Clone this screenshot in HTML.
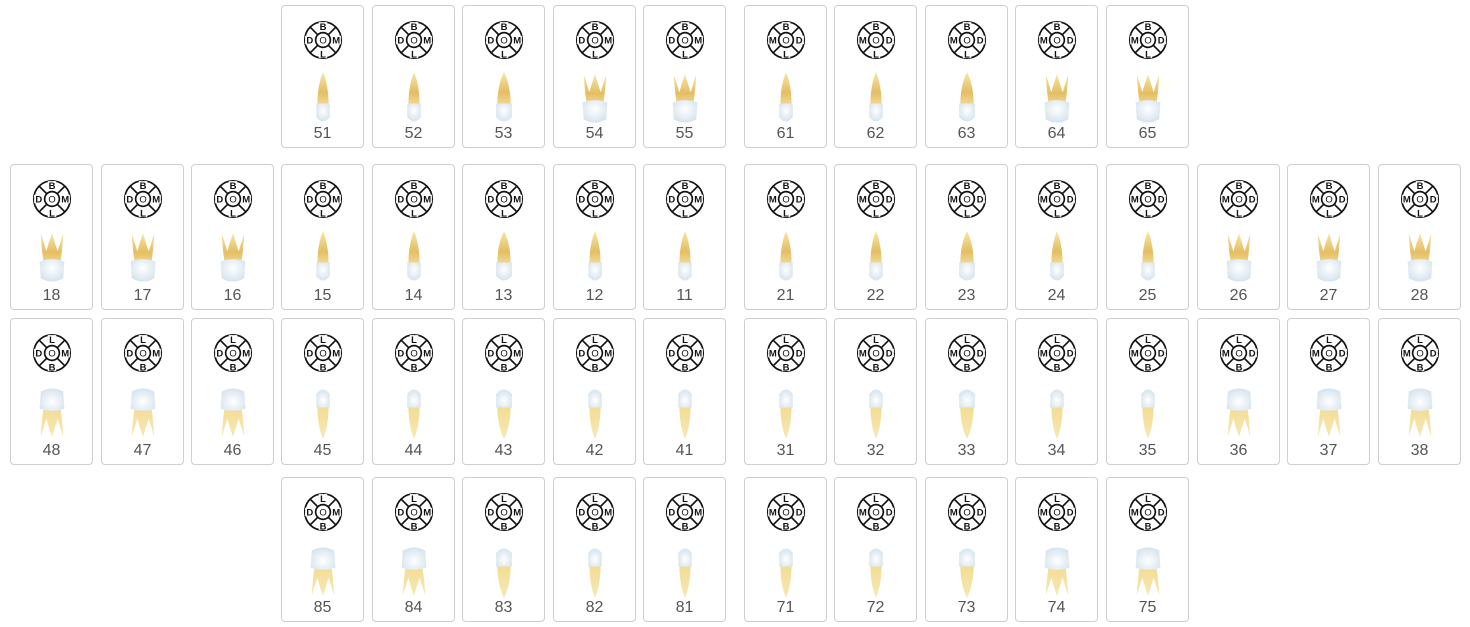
<!DOCTYPE html>
<html><head><meta charset="utf-8">
<style>
body{margin:0;background:#fff;width:1470px;height:627px;position:relative;overflow:hidden;font-family:"Liberation Sans",sans-serif}
.card{position:absolute;width:83px;border:1px solid #cfcfcf;border-radius:4px;background:#fff;box-sizing:border-box}
.card svg.ic{position:absolute;left:21px;top:14px}
.card svg.th{position:absolute;left:24px}
.lbl{position:absolute;left:0;right:0;text-align:center;font-size:16px;color:#555}
</style></head><body>
<svg width="0" height="0" style="position:absolute">
<defs>
<linearGradient id="rootU" x1="0" y1="0" x2="0" y2="1"><stop offset="0" stop-color="#f7e7a8"/><stop offset="0.6" stop-color="#e4bd63"/><stop offset="1" stop-color="#f3dc98"/></linearGradient>
<linearGradient id="rootL" x1="0" y1="1" x2="0" y2="0"><stop offset="0" stop-color="#f2dc92"/><stop offset="1" stop-color="#f7e8b4"/></linearGradient>
<radialGradient id="crown" cx="0.5" cy="0.4" r="0.7"><stop offset="0" stop-color="#ffffff"/><stop offset="1" stop-color="#cfdfeb"/></radialGradient>
</defs></svg>
<script>
const rowLabels=[
 ["51","52","53","54","55","61","62","63","64","65"],
 ["18","17","16","15","14","13","12","11","21","22","23","24","25","26","27","28"],
 ["48","47","46","45","44","43","42","41","31","32","33","34","35","36","37","38"],
 ["85","84","83","82","81","71","72","73","74","75"]
];
const rowTop=[5,164,318,477];
const rowH=[143,146,147,145];
const colX=[10,101,191,281,372,462,553,643,744,834,925,1015,1106,1197,1287,1378];
function icon(top,left,right,bottom){
 return `<svg class="ic" width="40" height="40" viewBox="0 0 38 38">
 <circle cx="19" cy="19" r="17.3" fill="#fff" stroke="#111" stroke-width="1.6"/>
 <line x1="6.6" y1="6.6" x2="31.4" y2="31.4" stroke="#111" stroke-width="1.6"/>
 <line x1="31.4" y1="6.6" x2="6.6" y2="31.4" stroke="#111" stroke-width="1.6"/>
 <circle cx="19" cy="19" r="7" fill="#fff" stroke="#111" stroke-width="1.6"/>
 <rect x="15" y="2" width="8" height="8" fill="#fff"/><rect x="15" y="28" width="8" height="8" fill="#fff"/>
 <rect x="2" y="15" width="8" height="8" fill="#fff"/><rect x="28" y="15" width="8" height="8" fill="#fff"/>
 <g font-family="Liberation Sans,sans-serif" font-weight="bold" font-size="9" text-anchor="middle" fill="#111">
 <text x="19" y="9.5">${top}</text><text x="19" y="35.5">${bottom}</text>
 <text x="6.5" y="22.2">${left}</text><text x="31.5" y="22.2">${right}</text>
 <text x="19" y="22.2" font-weight="normal">O</text></g></svg>`;
}
function tooth(label,upper){
 const d=+label[1],prim=+label[0]>4;
 const molar=prim?d>=4:d>=6;
 let s;
 if(molar){
  s=`<path d="M5 2 Q6 20 8 30 L22 30 Q24 20 25 2 L20 18 Q15 2 15 2 Q12 10 10 18 Z" fill="${upper?'url(#rootU)':'url(#rootL)'}"/>
  <path d="M4 27 Q15 23 26 27 L25 42 Q15 48 5 42 Z" fill="url(#crown)"/>`;
 }else{
  const w=d===3?6:5;
  s=`<path d="M15 0 Q${15+w} 12 ${15+w} 30 L${15-w} 30 Q${15-w} 12 15 0 Z" fill="${upper?'url(#rootU)':'url(#rootL)'}"/>
  <path d="M${15-w-1} 28 L${15+w+1} 28 L${15+w+1} 40 Q15 48 ${15-w-1} 40 Z" fill="url(#crown)"/>`;
 }
 const tr=upper?'':'transform="translate(0,48) scale(1,-1)"';
 return `<svg class="th" width="34" height="54" viewBox="0 0 30 48" style="top:66px"><g ${tr}>${s}</g></svg>`;
}
rowLabels.forEach((labels,r)=>{
 const upper=r<2;
 const cols=labels.length===10?[3,4,5,6,7,8,9,10,11,12]:colX.map((_,i)=>i);
 labels.forEach((lab,i)=>{
  const el=document.createElement('div');
  el.className='card';
  
  
  el.style.left=colX[cols[i]]+'px';el.style.top=rowTop[r]+'px';el.style.height=rowH[r]+'px';
  const q=+lab[0];const leftSide=(q===1||q===4||q===5||q===8);
  const t=upper?'B':'L',b=upper?'L':'B';
  const l=leftSide?'D':'M',rr=leftSide?'M':'D';
  el.innerHTML=icon(t,l,rr,b)+tooth(lab,upper)+`<div class="lbl" style="top:${rowH[r]-24}px">${lab}</div>`;
  document.body.appendChild(el);
 });
});
</script>
</body></html>
